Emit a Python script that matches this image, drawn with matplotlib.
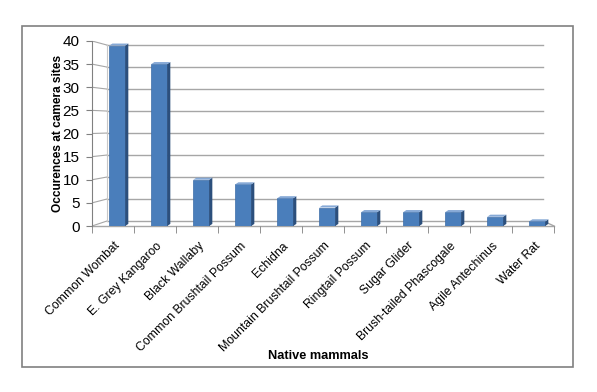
import matplotlib
matplotlib.use('Agg')
import matplotlib.pyplot as plt
import matplotlib.transforms as mtransforms
import numpy as np
from matplotlib.patches import Polygon, Rectangle

animals = ['Common Wombat', 'E. Grey Kangaroo', 'Black Wallaby', 'Common Brushtail Possum',
           'Echidna', 'Mountain Brushtail Possum', 'Ringtail Possum', 'Sugar Glider',
           'Brush-tailed Phascogale', 'Agile Antechinus', 'Water Rat']
counts = [39, 35, 10, 9, 6, 4, 3, 3, 3, 2, 1]
yticks = [0, 5, 10, 15, 20, 25, 30, 35, 40]

plt.rcParams['font.family'] = ['Liberation Sans', 'DejaVu Sans']

fig = plt.figure(figsize=(5.97, 3.92), dpi=100)
# outer chart frame
fig.patches.append(Rectangle((22 / 597, 1 - 367 / 392), (573 - 22) / 597, (367 - 26) / 392,
                             transform=fig.transFigure, fill=False, edgecolor='#808080', lw=1.2))

ax = fig.add_axes([92 / 597, 166 / 392, 462 / 597, 185 / 392])
ax.set_xlim(-0.5, len(animals) - 0.5)
ax.set_ylim(0, 40)
for s in ['top', 'right', 'bottom']:
    ax.spines[s].set_visible(False)
ax.spines['left'].set_color('#808080')

# back wall + floor (fake 3d)
back_l, back_r = -0.143, len(animals) - 0.76
def back(v):
    return 0.951 * v + 1.08
for v in yticks:
    ax.plot([back_l, back_r], [back(v), back(v)], color='#A6A6A6', lw=1, zorder=1)
    ax.plot([-0.5, back_l], [v, back(v)], color='#A6A6A6', lw=0.8, zorder=1)
ax.plot([back_l, back_l], [back(0), back(40)], color='#C8C8C8', lw=0.8, zorder=1)
ax.plot([-0.5, len(animals) - 0.5], [0, 0], color='#A6A6A6', lw=1, zorder=1, clip_on=False)
ax.plot([back_r, len(animals) - 0.5], [back(0), 0], color='#A6A6A6', lw=1, zorder=1, clip_on=False)

# bars
x = np.arange(len(animals)) + 0.1
w = 0.38
dx, dy = 0.075, 0.45
ax.bar(x, counts, width=w, color='#4A7EBB', edgecolor='#3C6DA8', lw=0.5, zorder=3)
for xi, v in zip(x, counts):
    xr = xi + w / 2
    xl = xi - w / 2
    ax.add_patch(Polygon([[xr, 0], [xr + dx, dy], [xr + dx, v + dy], [xr, v]],
                         closed=True, facecolor='#2C4F7C', edgecolor='none', zorder=3))
    ax.add_patch(Polygon([[xl, v], [xr, v], [xr + dx, v + dy], [xl + dx, v + dy]],
                         closed=True, facecolor='#86A9D6', edgecolor='none', zorder=3))

ax.set_yticks(yticks)
ax.tick_params(axis='y', length=4, color='#808080', labelsize=11, pad=5)
ax.set_xticks(np.arange(len(animals)))
ax.set_xticks(np.arange(len(animals) + 1) - 0.5, minor=True)
ax.tick_params(axis='x', which='major', length=0, labelsize=8.8, pad=2)
ax.tick_params(axis='x', which='minor', length=5, color='#808080')
ax.set_xticklabels(animals, rotation=45, ha='right', rotation_mode='anchor')
offset = mtransforms.ScaledTranslation(1 / 100, -11 / 100, fig.dpi_scale_trans)
for lab in ax.get_xticklabels():
    lab.set_transform(lab.get_transform() + offset)

ax.set_ylabel('Occurences at camera sites', fontsize=8.6, fontweight='bold', labelpad=-1)
fig.text(318 / 597, 1 - 356 / 392, 'Native mammals', fontsize=9.2, fontweight='bold',
         ha='center', va='center')

fig.savefig('out.png', dpi=100)
